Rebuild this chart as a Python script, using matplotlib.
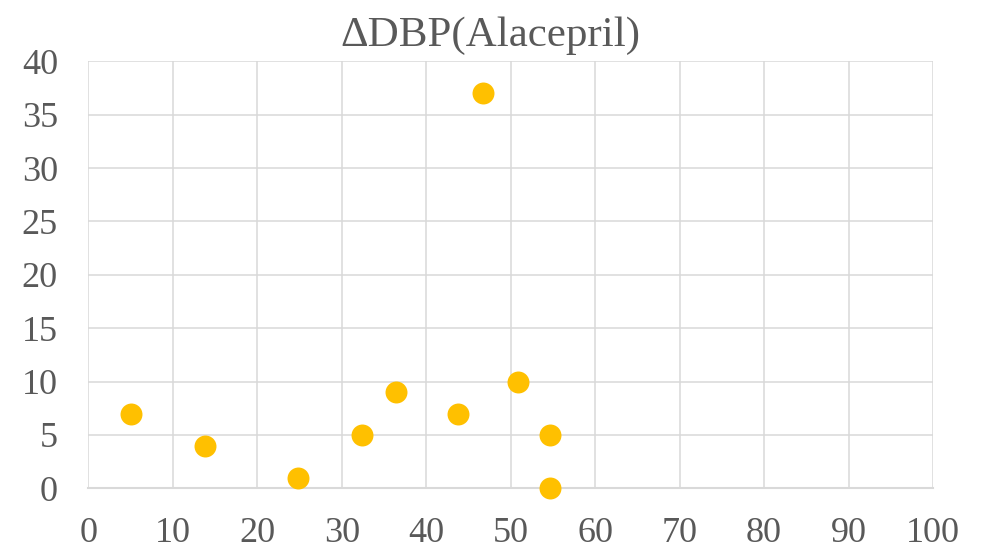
import matplotlib
matplotlib.use("Agg")
import matplotlib.pyplot as plt

plt.rcParams['font.family'] = ['Liberation Serif', 'DejaVu Serif']

title = "ΔDBP(Alacepril)"
x_vals = [5, 13.8, 24.8, 32.4, 36.4, 43.8, 46.7, 50.8, 54.7, 54.7]
y_vals = [7, 4, 1, 5, 9, 7, 37, 10, 5, 0]
x_ticks = list(range(0, 101, 10))
y_ticks = list(range(0, 41, 5))

text_color = "#595959"
grid_color = "#D9D9D9"

fig = plt.figure(figsize=(9.87, 5.49), dpi=100)
ax = fig.add_axes([88.5 / 987, 1 - 488.3 / 549, (933 - 88.5) / 987, (488.3 - 61.3) / 549])

ax.scatter(x_vals, y_vals, s=250, color="#FFC000", zorder=3, linewidths=0, clip_on=False)

ax.set_xlim(0, 100)
ax.set_ylim(0, 40)
ax.set_xticks(x_ticks)
ax.set_yticks(y_ticks)
ax.grid(True, color=grid_color, linewidth=1.1)
ax.set_axisbelow(True)

for side in ["top", "right", "left"]:
    ax.spines[side].set_visible(False)
ax.spines["bottom"].set_color(grid_color)
ax.spines["bottom"].set_linewidth(1.5)

ax.tick_params(axis="both", length=0, labelsize=26, labelcolor=text_color)
ax.tick_params(axis="x", pad=21)
ax.tick_params(axis="y", pad=22)

# title is centred on the whole chart, not on the plot area
fig.text(0.497, 1 - 46 / 549, title, fontsize=31, color=text_color,
         ha="center", va="baseline")

fig.savefig("out.png", dpi=100)
plt.close(fig)
